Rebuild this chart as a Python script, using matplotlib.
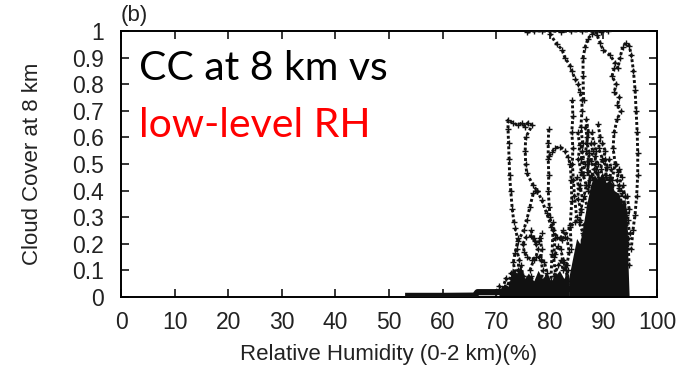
import matplotlib
matplotlib.use("Agg")
import matplotlib.pyplot as plt

# ---------------- data ----------------
x_ticks = [0, 10, 20, 30, 40, 50, 60, 70, 80, 90, 100]
y_ticks = [0, 0.1, 0.2, 0.3, 0.4, 0.5, 0.6, 0.7, 0.8, 0.9, 1]
y_tick_labels = ["0", "0.1", "0.2", "0.3", "0.4", "0.5", "0.6", "0.7", "0.8", "0.9", "1"]

# chains of '+' points (relative humidity %, cloud cover)
top_x = [75.8, 77.0, 78.5, 80.0, 82.0, 84.0, 86.0, 88.0, 89.5, 90.9]
top_y = [0.995, 1.0, 1.0, 1.0, 0.998, 1.0, 1.0, 1.0, 0.998, 1.0]

desc_x = [80.0, 81.3, 82.3, 82.8, 83.8, 84.1, 84.7, 85.3, 85.6, 86.0, 86.0, 85.8, 86.1, 85.9, 86.2]
desc_y = [0.99, 0.95, 0.93, 0.90, 0.87, 0.85, 0.82, 0.80, 0.77, 0.74, 0.70, 0.64, 0.58, 0.52, 0.46]

rise_x = [86.3, 86.2, 86.2, 86.6, 87.1, 87.9, 88.6]
rise_y = [0.74, 0.83, 0.90, 0.94, 0.97, 0.99, 1.0]

right_x = [88.6, 88.8, 89.4, 89.9, 91.2, 92.2, 92.7, 93.1, 93.6, 94.2, 94.8, 95.2, 95.6, 95.9,
           96.1, 96.3, 96.4, 96.4, 96.2, 95.9, 95.5, 95.2]
right_y = [1.0, 0.985, 0.955, 0.93, 0.91, 0.88, 0.86, 0.90, 0.94, 0.955, 0.945, 0.91, 0.85, 0.78,
           0.70, 0.62, 0.54, 0.46, 0.38, 0.31, 0.25, 0.18]

zig_x = [92.0, 91.6, 92.4, 92.0, 93.0, 92.6, 93.3, 92.6, 92.0, 91.8, 92.2, 91.6]
zig_y = [0.86, 0.83, 0.80, 0.77, 0.75, 0.72, 0.70, 0.67, 0.62, 0.56, 0.50, 0.44]

hump_x = [73.3, 73.0, 72.7, 72.5, 72.4, 72.3, 72.2, 72.2, 73.1, 74.1, 74.8, 75.4, 75.9, 76.7,
          75.5, 75.4, 75.5, 75.7, 76.9, 77.6]
hump_y = [0.28, 0.33, 0.40, 0.46, 0.52, 0.58, 0.63, 0.665, 0.655, 0.645, 0.655, 0.64, 0.655, 0.645,
          0.60, 0.55, 0.50, 0.465, 0.42, 0.40]

w_x = [77.6, 78.5, 79.4, 80.3, 81.3, 82.2, 82.8, 83.8, 84.7, 85.6, 86.4]
w_y = [0.40, 0.365, 0.315, 0.264, 0.227, 0.214, 0.227, 0.264, 0.283, 0.29, 0.27]

back_x = [77.6, 76.9, 76.3, 75.7, 75.1, 74.1, 73.5, 73.2, 73.6, 73.1]
back_y = [0.40, 0.39, 0.34, 0.29, 0.25, 0.21, 0.165, 0.13, 0.08, 0.04]

col80_x = [79.8, 79.7, 79.7, 79.8, 79.7, 79.9, 80.0, 80.6, 80.4, 80.2]
col80_y = [0.63, 0.58, 0.52, 0.46, 0.40, 0.34, 0.30, 0.25, 0.16, 0.06]

arch_x = [79.9, 80.4, 81.0, 81.9, 82.8, 83.4, 83.8, 84.0, 84.1, 83.8, 84.0]
arch_y = [0.53, 0.545, 0.56, 0.565, 0.55, 0.525, 0.50, 0.44, 0.36, 0.27, 0.18]

col84_x = [84.2, 84.3, 84.1, 84.3, 84.2, 84.4, 84.6, 85.0]
col84_y = [0.74, 0.68, 0.62, 0.56, 0.50, 0.44, 0.38, 0.30]

col85_x = [85.0, 85.4, 85.2, 85.8, 85.5, 86.2, 85.9, 86.5]
col85_y = [0.45, 0.41, 0.37, 0.33, 0.28, 0.24, 0.19, 0.14]

col85b_x = [85.2, 85.6, 85.3, 85.9, 85.6, 86.1, 85.8]
col85b_y = [0.62, 0.57, 0.52, 0.47, 0.42, 0.37, 0.32]

col86_x = [86.0, 86.5, 86.2, 86.8, 86.4, 87.0]
col86_y = [0.55, 0.50, 0.46, 0.42, 0.38, 0.34]

col86b_x = [86.6, 87.0, 86.7, 87.3, 87.0, 87.5, 87.1]
col86b_y = [0.64, 0.60, 0.55, 0.51, 0.47, 0.44, 0.40]

col87_x = [86.8, 87.2, 86.9, 87.4, 87.0, 87.6, 87.2, 87.8, 87.4]
col87_y = [0.67, 0.62, 0.58, 0.54, 0.50, 0.46, 0.42, 0.38, 0.32]

col88_x = [87.8, 88.2, 88.6, 88.4, 88.9, 89.2, 89.0, 89.6]
col88_y = [0.62, 0.58, 0.55, 0.50, 0.47, 0.44, 0.40, 0.36]

col88b_x = [88.4, 88.9, 88.6, 89.3, 89.0, 89.6, 89.3]
col88b_y = [0.53, 0.50, 0.47, 0.44, 0.42, 0.40, 0.37]

col88c_x = [87.6, 88.0, 87.7, 88.3, 87.9, 88.5, 88.1]
col88c_y = [0.58, 0.55, 0.51, 0.48, 0.45, 0.42, 0.38]

col89_x = [89.0, 89.4, 89.1, 89.8, 89.5, 90.0]
col89_y = [0.65, 0.60, 0.56, 0.52, 0.48, 0.44]

col90_x = [89.8, 90.3, 90.0, 90.6, 90.4, 91.0, 90.8, 91.4]
col90_y = [0.58, 0.55, 0.51, 0.49, 0.45, 0.43, 0.40, 0.36]

col90b_x = [90.3, 90.7, 90.4, 91.0, 90.6, 91.2]
col90b_y = [0.52, 0.49, 0.46, 0.44, 0.41, 0.38]

col91_x = [91.0, 91.5, 91.2, 91.8, 91.4, 92.0]
col91_y = [0.52, 0.48, 0.45, 0.42, 0.39, 0.36]

col92_x = [92.4, 92.8, 92.5, 93.0, 92.7, 93.2]
col92_y = [0.50, 0.47, 0.44, 0.41, 0.38, 0.35]

col93_x = [93.0, 93.4, 92.9, 93.5, 93.2, 93.8, 93.6, 94.2]
col93_y = [0.48, 0.45, 0.42, 0.39, 0.36, 0.33, 0.29, 0.24]

col94_x = [93.6, 94.0, 93.7, 94.3, 94.0, 94.5]
col94_y = [0.42, 0.38, 0.35, 0.31, 0.27, 0.22]

col95_x = [94.4, 94.8, 94.5, 94.9, 94.6, 94.8]
col95_y = [0.38, 0.33, 0.29, 0.24, 0.20, 0.12]

loop1_x = [75.0, 75.6, 76.4, 77.2, 77.8, 77.4, 76.6, 75.8, 75.2, 75.0]
loop1_y = [0.20, 0.225, 0.23, 0.21, 0.18, 0.15, 0.14, 0.15, 0.17, 0.20]

loop2_x = [76.3, 77.0, 78.0, 79.0, 79.5, 79.0, 78.0, 77.0, 76.5]
loop2_y = [0.10, 0.14, 0.15, 0.13, 0.09, 0.05, 0.04, 0.05, 0.08]

loop3_x = [80.8, 81.6, 82.6, 83.3, 83.0, 82.0, 81.2, 80.8]
loop3_y = [0.08, 0.12, 0.13, 0.10, 0.05, 0.03, 0.04, 0.08]

loop4_x = [82.0, 82.5, 83.2, 83.6, 83.2, 82.5, 82.0]
loop4_y = [0.22, 0.25, 0.22, 0.17, 0.12, 0.10, 0.14]

col78_x = [78.2, 78.5, 78.3, 78.7, 78.4, 78.6]
col78_y = [0.22, 0.18, 0.14, 0.10, 0.06, 0.02]

col74_x = [73.5, 74.0, 73.8, 74.3, 74.0, 74.5, 74.2]
col74_y = [0.26, 0.22, 0.18, 0.14, 0.10, 0.06, 0.02]

col75_x = [74.6, 75.0, 74.8, 75.3]
col75_y = [0.12, 0.08, 0.05, 0.02]

arc77_x = [76.5, 77.0, 77.5, 78.0, 78.5]
arc77_y = [0.25, 0.22, 0.20, 0.21, 0.24]

wave81_x = [81.0, 81.5, 82.0, 82.5, 83.0, 83.4]
wave81_y = [0.16, 0.19, 0.18, 0.14, 0.10, 0.06]

col81_x = [80.6, 81.0, 80.7, 81.1]
col81_y = [0.28, 0.22, 0.15, 0.08]

bump_x = [70.0, 70.6, 71.2, 71.8, 72.3, 72.8, 73.2, 73.8, 74.4, 75.0, 75.6, 76.2, 76.8]
bump_y = [0.02, 0.04, 0.03, 0.07, 0.05, 0.09, 0.06, 0.03, 0.06, 0.08, 0.04, 0.06, 0.03]

lowband_x = [53.0, 60.0, 66.0, 66.5, 70.0, 74.0, 80.0, 88.0, 94.6]
lowband_y = [0.004, 0.004, 0.005, 0.018, 0.018, 0.025, 0.03, 0.03, 0.02]

# solid regions of overlapping points
dense_x = [83.5, 84.3, 85.0, 85.6, 86.3, 87.0, 87.6, 88.3, 89.0, 89.8, 90.5, 91.3, 92.0, 92.8,
           93.5, 94.0, 94.4, 94.6, 94.8]
dense_top = [0.07, 0.15, 0.22, 0.20, 0.28, 0.36, 0.42, 0.46, 0.44, 0.47, 0.43, 0.44, 0.40, 0.39,
             0.35, 0.37, 0.31, 0.12, 0.0]

lowmass_x = [70.5, 71.5, 72.3, 73.0, 73.8, 74.5, 75.3, 76.0, 77.0, 77.8, 78.6, 79.5, 80.2, 81.0,
             81.8, 82.6, 83.5]
lowmass_top = [0.02, 0.05, 0.04, 0.11, 0.09, 0.12, 0.07, 0.09, 0.06, 0.10, 0.07, 0.09, 0.06, 0.08,
               0.10, 0.07, 0.09]

chains = [(top_x, top_y), (desc_x, desc_y), (rise_x, rise_y), (right_x, right_y),
          (zig_x, zig_y), (hump_x, hump_y), (w_x, w_y), (back_x, back_y),
          (col80_x, col80_y), (arch_x, arch_y), (col84_x, col84_y), (col85_x, col85_y),
          (col85b_x, col85b_y), (col86_x, col86_y), (col86b_x, col86b_y), (col87_x, col87_y),
          (col88_x, col88_y), (col88b_x, col88b_y), (col88c_x, col88c_y), (col89_x, col89_y),
          (col90_x, col90_y), (col90b_x, col90b_y), (col91_x, col91_y), (col92_x, col92_y),
          (col93_x, col93_y), (col94_x, col94_y), (col95_x, col95_y),
          (loop1_x, loop1_y), (loop2_x, loop2_y), (loop3_x, loop3_y), (loop4_x, loop4_y),
          (col78_x, col78_y), (col74_x, col74_y), (col75_x, col75_y), (arc77_x, arc77_y),
          (wave81_x, wave81_y), (col81_x, col81_y), (bump_x, bump_y)]

# ---------------- figure ----------------
fig = plt.figure(figsize=(6.9, 3.68), dpi=100)
ax = fig.add_axes([0.1754, 0.193, 0.9522 - 0.1754, 0.9158 - 0.193])

ink = "#111111"
ax.fill_between(dense_x, 0, dense_top, color=ink, lw=0, zorder=2)
ax.fill_between(lowmass_x, 0, lowmass_top, color=ink, lw=0, zorder=2)
ax.plot(lowband_x, lowband_y, color=ink, lw=4.5, solid_capstyle="butt", zorder=3)
for cx, cy in chains:
    ax.plot(cx, cy, color=ink, lw=2.1, linestyle=(0, (1.0, 0.8)), zorder=3)
    ax.plot(cx, cy, color=ink, lw=0, marker="+", ms=4.5, mew=1.0, zorder=3)

ax.set_xlim(0, 100)
ax.set_ylim(0, 1)
ax.set_xticks(x_ticks)
ax.set_yticks(y_ticks)
ax.set_yticklabels(y_tick_labels)
ax.tick_params(direction="in", length=6, width=1.1, top=True, right=True,
               labelsize=16.5, colors="black")
ax.tick_params(axis="x", pad=10)
ax.tick_params(axis="y", pad=12.5)
for lab in ax.get_xticklabels() + ax.get_yticklabels():
    lab.set_fontfamily("Liberation Sans")
    lab.set_color("#222222")
for sp in ax.spines.values():
    sp.set_linewidth(1.4)

ax.set_xlabel("Relative Humidity (0-2 km)(%)", fontsize=16, family="Liberation Sans",
              color="#222222", labelpad=7)
ax.set_ylabel("Cloud Cover at 8 km", fontsize=16, family="Liberation Sans",
              color="#222222", labelpad=21)

ax.text(0.0, 1.018, "(b)", transform=ax.transAxes, fontsize=16, family="Liberation Sans",
        color="#222222", ha="left", va="bottom")
ax.text(0.033, 0.815, "CC at 8 km vs", transform=ax.transAxes, fontsize=29.5, family="Lato",
        color="black", ha="left", va="baseline")
ax.text(0.033, 0.60, "low-level RH", transform=ax.transAxes, fontsize=29.5, family="Lato",
        color="#ff0000", ha="left", va="baseline")

fig.savefig("out.png", dpi=100)
